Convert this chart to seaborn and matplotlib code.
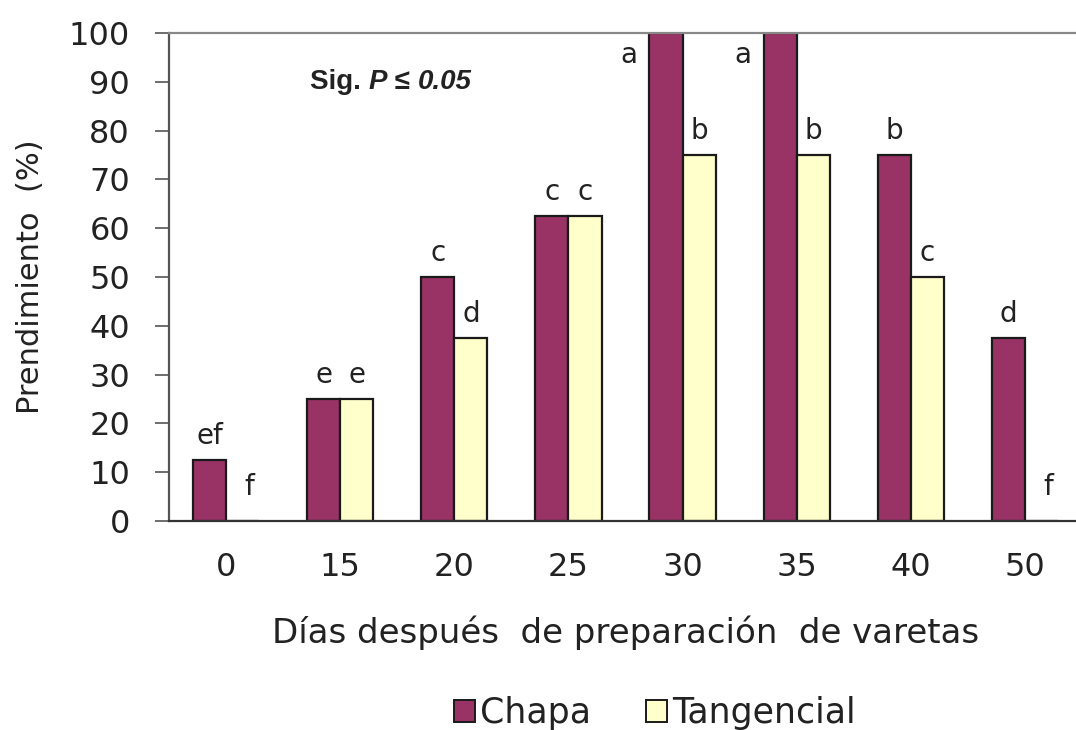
import numpy as np
import pandas as pd
import matplotlib
matplotlib.use("Agg")
import matplotlib.pyplot as plt
import seaborn as sns
from matplotlib.patches import Patch

dias = ["0", "15", "20", "25", "30", "35", "40", "50"]
chapa = [12.5, 25, 50, 62.5, 100, 100, 75, 37.5]
tangencial = [0, 25, 37.5, 62.5, 75, 75, 50, 0]
letras_chapa = ["ef", "e", "c", "c", "a", "a", "b", "d"]
letras_tang = ["f", "e", "d", "c", "b", "b", "c", "f"]
series = ["Chapa", "Tangencial"]
colores = ["#993366", "#FFFFCC"]
yticks = [0, 10, 20, 30, 40, 50, 60, 70, 80, 90, 100]

df = pd.DataFrame({
    "Días": dias * 2,
    "Prendimiento": chapa + tangencial,
    "Tipo": [series[0]] * len(dias) + [series[1]] * len(dias),
})

sns.set_style("white")
plt.rcParams["font.family"] = ["DejaVu Sans"]
plt.rcParams["text.color"] = "#222222"
plt.rcParams["axes.labelcolor"] = "#222222"
plt.rcParams["xtick.color"] = "#222222"
plt.rcParams["ytick.color"] = "#222222"

W, H = 1076, 730
fig = plt.figure(figsize=(W / 100, H / 100), dpi=100)
ax = fig.add_axes([169 / W, 1 - 521 / H, (1082 - 169) / W, (521 - 33) / H])

sns.barplot(data=df, x="Días", y="Prendimiento", hue="Tipo", order=dias,
            hue_order=series, palette=colores, width=0.58, edgecolor="#1a1a1a",
            linewidth=1.6, saturation=1, ax=ax, legend=False)

ax.set_ylim(0, 100)
ax.set_xlim(-0.5, len(dias) - 0.5)
ax.set_yticks(yticks)
ax.set_yticklabels([str(v) for v in yticks], fontsize=23)
ax.set_xticks(np.arange(len(dias)))
ax.set_xticklabels(dias, fontsize=23)
ax.set_xticks(np.arange(-0.5, len(dias), 1), minor=True)
ax.tick_params(axis="x", which="major", length=0, pad=22)
ax.tick_params(axis="x", which="minor", length=10, width=1.2, color="#555555", direction="out")
ax.tick_params(axis="y", which="major", length=10, width=1.2, color="#555555", direction="out", pad=18, left=True)

for side in ["left", "bottom", "top", "right"]:
    ax.spines[side].set_visible(True)
    ax.spines[side].set_linewidth(1.6)
ax.spines["left"].set_color("#555555")
ax.spines["bottom"].set_color("#333333")
ax.spines["top"].set_color("#888888")
ax.spines["right"].set_color("#888888")

ax.set_xlabel("Días después  de preparación  de varetas", fontsize=24.5, labelpad=24)
ax.set_ylabel("Prendimiento  (%)", fontsize=22)
ax.yaxis.set_label_coords((45 - 169) / 913, 0.5)

# letters above bars
for cont, letras in zip(ax.containers, [letras_chapa, letras_tang]):
    for bar, letra in zip(cont, letras):
        xc = bar.get_x() + bar.get_width() / 2
        h = bar.get_height()
        if h >= 100:
            ax.text(bar.get_x() - 0.18, 95.5, letra, ha="center", va="center", fontsize=20)
        elif h == 0:
            ax.text(xc + 0.06, 7, letra, ha="center", va="center", fontsize=20)
        else:
            ax.text(xc, h + 5, letra, ha="center", va="center", fontsize=20)

# significance note, built from pieces
renderer = fig.canvas.get_renderer()
piezas = [("Sig. ", "normal"), ("P", "italic"), (" ≤ ", "normal"), ("0.05", "italic")]
x_px, base_px = 310, 89
for s, estilo in piezas:
    t = fig.text(x_px / W, 1 - base_px / H, s, fontsize=20, fontweight="bold",
                 fontstyle=estilo, family=["Liberation Sans", "DejaVu Sans"],
                 ha="left", va="baseline", color="#222222")
    x_px += t.get_window_extent(renderer).width

handles = [Patch(facecolor=c, edgecolor="#1a1a1a", linewidth=1.4) for c in colores]
fig.legend(handles, series, loc="center", bbox_to_anchor=(655 / W, 1 - 713 / H),
           ncol=2, frameon=False, fontsize=25, handlelength=0.6, handleheight=0.6,
           handletextpad=0.15, columnspacing=1.6)

fig.savefig("out.png", dpi=100)
